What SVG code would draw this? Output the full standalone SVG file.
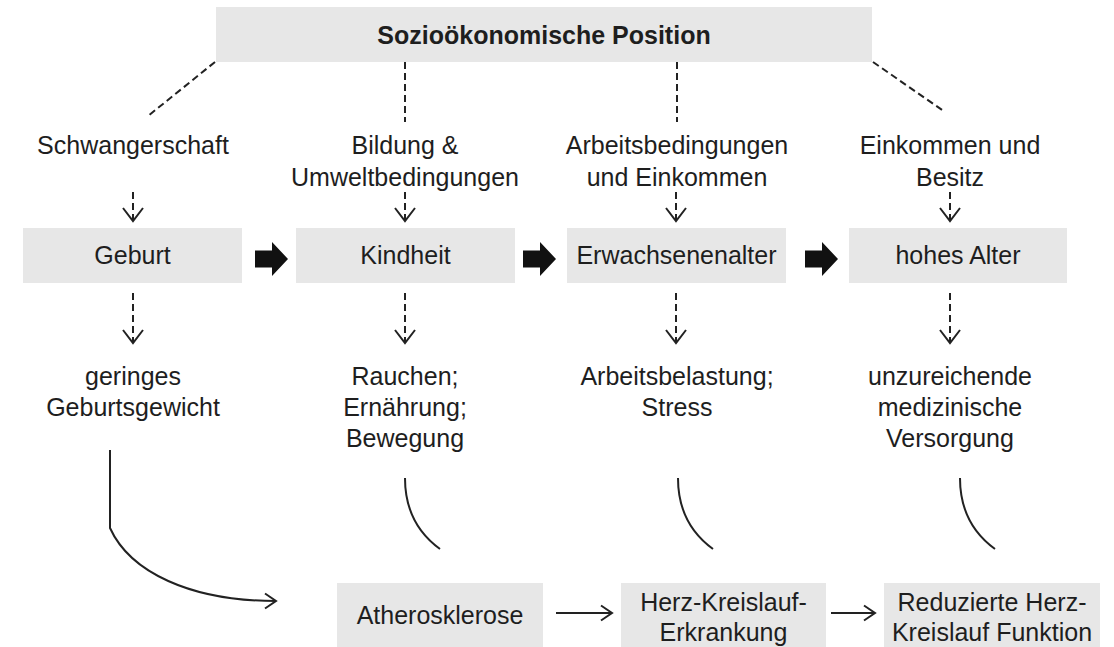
<svg xmlns="http://www.w3.org/2000/svg" width="1114" height="647" viewBox="0 0 1114 647">
<style>
  .box { fill: #e7e7e7; }
  .t { font-family: "Liberation Sans", Arial, Helvetica, sans-serif; font-size: 25px; fill: #1e1e1e; text-anchor: middle; }
  .tb { font-weight: bold; }
  .dash { fill: none; stroke: #222; stroke-width: 2; stroke-dasharray: 7 4; }
  .solid { fill: none; stroke: #222; stroke-width: 2; }
  .big { fill: #111; }
</style>
<defs>
  <marker id="vhead" viewBox="0 0 16 24" refX="14" refY="12" markerWidth="16" markerHeight="24" orient="auto" markerUnits="userSpaceOnUse">
    <path d="M1,2 L14,12 L1,22" fill="none" stroke="#222" stroke-width="2" stroke-dasharray="none"/>
  </marker>
  <marker id="hhead" viewBox="0 0 14 18" refX="12" refY="9" markerWidth="14" markerHeight="18" orient="auto" markerUnits="userSpaceOnUse">
    <path d="M1,1.5 L12,9 L1,16.5" fill="none" stroke="#222" stroke-width="2" stroke-dasharray="none"/>
  </marker>
  <path id="bigArrow" d="M0,-8.5 L17,-8.5 L17,-17 L33,0 L17,17 L17,8.5 L0,8.5 Z"/>
</defs>

<g id="sozio">
  <rect class="box" x="216" y="7" width="656" height="55"/>
  <text class="t tb" x="544" y="44">Sozioökonomische Position</text>
</g>

<g id="label-schwangerschaft">
  <text class="t" x="133" y="154">Schwangerschaft</text>
</g>
<g id="label-bildung">
  <text class="t" x="405" y="154">Bildung &amp;</text>
  <text class="t" x="405" y="186">Umweltbedingungen</text>
</g>
<g id="label-arbeitsbedingungen">
  <text class="t" x="677" y="154">Arbeitsbedingungen</text>
  <text class="t" x="677" y="186">und Einkommen</text>
</g>
<g id="label-einkommen">
  <text class="t" x="950" y="154">Einkommen und</text>
  <text class="t" x="950" y="186">Besitz</text>
</g>

<g id="geburt">
  <rect class="box" x="23" y="228" width="219" height="55"/>
  <text class="t" x="132.5" y="264">Geburt</text>
</g>
<g id="kindheit">
  <rect class="box" x="296" y="228" width="219" height="55"/>
  <text class="t" x="405.5" y="264">Kindheit</text>
</g>
<g id="erwachsenenalter">
  <rect class="box" x="567" y="228" width="219" height="55"/>
  <text class="t" x="676.5" y="264">Erwachsenenalter</text>
</g>
<g id="hohes-alter">
  <rect class="box" x="849" y="228" width="218" height="55"/>
  <text class="t" x="958" y="264">hohes Alter</text>
</g>

<g id="label-geburtsgewicht">
  <text class="t" x="133" y="385">geringes</text>
  <text class="t" x="133" y="416">Geburtsgewicht</text>
</g>
<g id="label-rauchen">
  <text class="t" x="405" y="385">Rauchen;</text>
  <text class="t" x="405" y="416">Ernährung;</text>
  <text class="t" x="405" y="447">Bewegung</text>
</g>
<g id="label-arbeitsbelastung">
  <text class="t" x="677" y="385">Arbeitsbelastung;</text>
  <text class="t" x="677" y="416">Stress</text>
</g>
<g id="label-versorgung">
  <text class="t" x="950" y="385">unzureichende</text>
  <text class="t" x="950" y="416">medizinische</text>
  <text class="t" x="950" y="447">Versorgung</text>
</g>

<g id="atherosklerose">
  <rect class="box" x="337" y="583" width="206" height="64"/>
  <text class="t" x="440" y="624">Atherosklerose</text>
</g>
<g id="herz-kreislauf-erkrankung">
  <rect class="box" x="621" y="583" width="205" height="64"/>
  <text class="t" x="723.5" y="611">Herz-Kreislauf-</text>
  <text class="t" x="723.5" y="641">Erkrankung</text>
</g>
<g id="reduzierte-funktion">
  <rect class="box" x="884" y="583" width="216" height="64"/>
  <text class="t" x="992" y="611">Reduzierte Herz-</text>
  <text class="t" x="992" y="641">Kreislauf Funktion</text>
</g>

<g id="connectors">
  <!-- from Sozioökonomische Position -->
  <line class="dash" x1="215" y1="62" x2="148" y2="116"/>
  <line class="dash" x1="405" y1="62" x2="405" y2="122"/>
  <line class="dash" x1="677" y1="62" x2="677" y2="122"/>
  <line class="dash" x1="873" y1="62" x2="945" y2="112"/>
  <!-- label to stage -->
  <line class="dash" x1="133" y1="192" x2="133" y2="221" marker-end="url(#vhead)"/>
  <line class="dash" x1="405" y1="192" x2="405" y2="221" marker-end="url(#vhead)"/>
  <line class="dash" x1="676" y1="192" x2="676" y2="221" marker-end="url(#vhead)"/>
  <line class="dash" x1="950" y1="192" x2="950" y2="221" marker-end="url(#vhead)"/>
  <!-- stage to risk -->
  <line class="dash" x1="133" y1="293" x2="133" y2="343" marker-end="url(#vhead)"/>
  <line class="dash" x1="405" y1="293" x2="405" y2="343" marker-end="url(#vhead)"/>
  <line class="dash" x1="676" y1="293" x2="676" y2="343" marker-end="url(#vhead)"/>
  <line class="dash" x1="950" y1="293" x2="950" y2="343" marker-end="url(#vhead)"/>
  <!-- big block arrows between stages -->
  <use href="#bigArrow" class="big" transform="translate(255,259)"/>
  <use href="#bigArrow" class="big" transform="translate(523,259)"/>
  <use href="#bigArrow" class="big" transform="translate(805,259)"/>
  <!-- risk curves -->
  <path class="solid" d="M110,450 L110,528 C130,572 190,601 276,601" marker-end="url(#hhead)"/>
  <path class="solid" d="M405,478 C405,510 418,533 440,549"/>
  <path class="solid" d="M678,478 C678,510 691,533 713,549"/>
  <path class="solid" d="M960,478 C960,510 973,533 995,549"/>
  <!-- outcome chain -->
  <line class="solid" x1="556" y1="613" x2="612" y2="613" marker-end="url(#hhead)"/>
  <line class="solid" x1="831" y1="613" x2="875" y2="613" marker-end="url(#hhead)"/>
</g>
</svg>
